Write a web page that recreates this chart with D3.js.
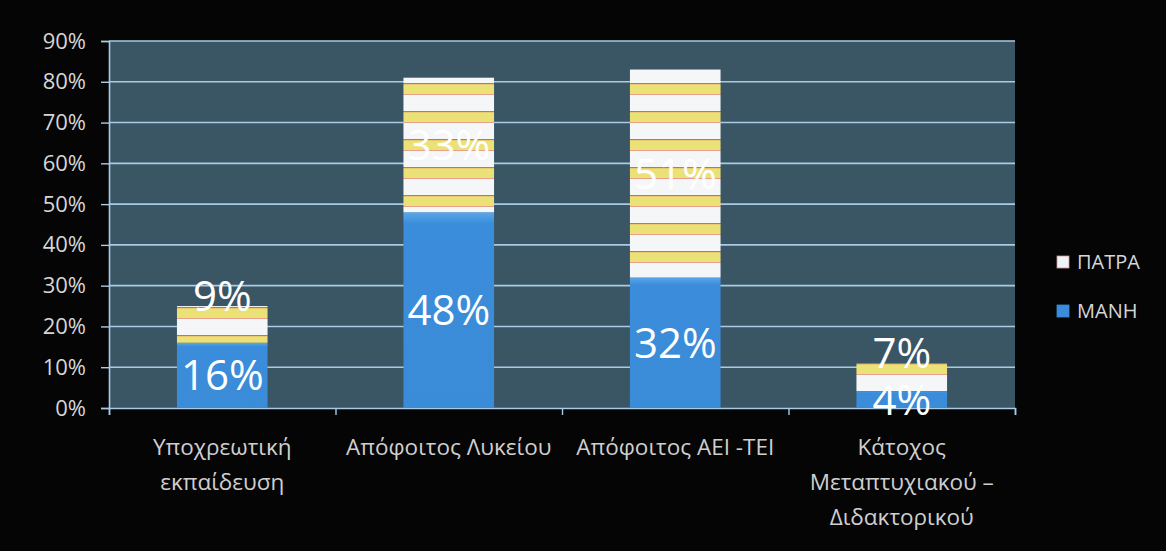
<!doctype html>
<html>
<head>
<meta charset="utf-8">
<script src="https://cdn.jsdelivr.net/npm/d3@7"></script>
<style>
  body { margin: 0; background: #050505; }
  text { font-family: "Open Sans", sans-serif; }
</style>
</head>
<body>
<div id="chart"></div>
<script>
// data
var categories = ["Υποχρεωτική εκπαίδευση", "Απόφοιτος Λυκείου", "Απόφοιτος ΑΕΙ -ΤΕΙ", "Κάτοχος Μεταπτυχιακού – Διδακτορικού"];
var catLines = [["Υποχρεωτική", "εκπαίδευση"], ["Απόφοιτος Λυκείου"], ["Απόφοιτος ΑΕΙ -ΤΕΙ"], ["Κάτοχος", "Μεταπτυχιακού –", "Διδακτορικού"]];
var mani = [16, 48, 32, 4];
var patra = [9, 33, 51, 7];
var seriesNames = ["ΜΑΝΗ", "ΠΑΤΡΑ"];
var yTicks = [0, 10, 20, 30, 40, 50, 60, 70, 80, 90];

var W = 1166, H = 551;
var margin = {top: 41, right: 151, bottom: 143, left: 109},
    width = W - margin.left - margin.right,
    height = H - margin.top - margin.bottom;

var svg = d3.select("#chart").append("svg")
    .attr("width", W)
    .attr("height", H);

svg.append("rect").attr("width", W).attr("height", H).attr("fill", "#050505");

var defs = svg.append("defs");

// striped fill for the ΠΑΤΡΑ segments
var pat = defs.append("pattern")
    .attr("id", "stripes")
    .attr("patternUnits", "userSpaceOnUse")
    .attr("width", 10).attr("height", 28);
pat.append("rect").attr("width", 10).attr("height", 28).attr("fill", "#f4f6f8");
pat.append("rect").attr("y", 15).attr("width", 10).attr("height", 10).attr("fill", "#ebe277");
pat.append("rect").attr("y", 14).attr("width", 10).attr("height", 1.2).attr("fill", "#dd6a4a");
pat.append("rect").attr("y", 25).attr("width", 10).attr("height", 1).attr("fill", "#e9a08a");

var blueGrad = defs.append("linearGradient")
    .attr("id", "blue").attr("x1", 0).attr("x2", 0).attr("y1", 0).attr("y2", 1);
blueGrad.append("stop").attr("offset", "0%").attr("stop-color", "#5aa6ea");
blueGrad.append("stop").attr("offset", "6%").attr("stop-color", "#3a8ddb");
blueGrad.append("stop").attr("offset", "100%").attr("stop-color", "#3a8cd8");

var g = svg.append("g")
    .attr("transform", "translate(" + margin.left + "," + margin.top + ")");

var x = d3.scaleBand().domain(categories).range([0, width]).paddingInner(0.6).paddingOuter(0.3);
var xb = d3.scaleBand().domain(categories).range([0, width]);
var y = d3.scaleLinear().domain([0, 90]).range([height, 0]);

// plot area
g.append("rect").attr("width", width).attr("height", height).attr("fill", "#3a5665");

// gridlines
g.selectAll(".grid").data(yTicks.slice(1)).enter().append("line")
    .attr("x1", 0).attr("x2", width)
    .attr("y1", function(d) { return y(d); })
    .attr("y2", function(d) { return y(d); })
    .attr("stroke", "#a9cbe6").attr("stroke-width", 1.6);

// y axis
var yAxis = g.append("g")
    .call(d3.axisLeft(y).tickValues(yTicks).tickSize(8).tickPadding(15)
      .tickFormat(function(d) { return d + "%"; }));
yAxis.select(".domain").attr("stroke", "#a9cbe6").attr("stroke-width", 1.6);
yAxis.selectAll(".tick line").attr("stroke", "#a9cbe6").attr("stroke-width", 1.4);
yAxis.selectAll(".tick text").attr("fill", "#d6d6d6").style("font-size", "22px");

// x axis
var xAxis = g.append("g")
    .attr("transform", "translate(0," + height + ")")
    .call(d3.axisBottom(d3.scaleLinear().domain([0, 4]).range([0, width]))
      .ticks(4).tickSize(7).tickFormat(""));
xAxis.select(".domain").attr("stroke", "#a9cbe6").attr("stroke-width", 1.6);
xAxis.selectAll(".tick line").attr("stroke", "#a9cbe6").attr("stroke-width", 1.4);

// stacked bars
var rows = categories.map(function(c, i) { return {cat: c, "ΜΑΝΗ": mani[i], "ΠΑΤΡΑ": patra[i]}; });
var stack = d3.stack().keys(seriesNames)(rows);
var fills = {"ΜΑΝΗ": "url(#blue)", "ΠΑΤΡΑ": "url(#stripes)"};

stack.forEach(function(s) {
  g.selectAll(".bar-" + s.index).data(s).enter().append("rect")
      .attr("x", function(d) { return x(d.data.cat); })
      .attr("width", x.bandwidth())
      .attr("y", function(d) { return y(d[1]); })
      .attr("height", function(d) { return y(d[0]) - y(d[1]); })
      .attr("fill", fills[s.key]);
});

// value labels: centred, but short top segments push their label up over the bar top
stack.forEach(function(s) {
  g.selectAll(".lab-" + s.index).data(s).enter().append("text")
      .attr("x", function(d) { return x(d.data.cat) + x.bandwidth() / 2; })
      .attr("y", function(d) {
        var h = y(d[0]) - y(d[1]);
        if (s.key === "ΠΑΤΡΑ" && h < 40) return y(d[1]) - 10;
        return (y(d[0]) + y(d[1])) / 2;
      })
      .attr("dy", "0.36em")
      .attr("text-anchor", "middle")
      .attr("fill", "#ffffff")
      .style("font-size", "42px")
      .text(function(d) { return (d[1] - d[0]) + "%"; });
});

// category labels
catLines.forEach(function(lines, i) {
  var t = g.append("text")
      .attr("text-anchor", "middle")
      .attr("fill", "#cfcfcf")
      .style("font-size", "22.5px");
  lines.forEach(function(l, j) {
    t.append("tspan")
        .attr("x", xb(categories[i]) + xb.bandwidth() / 2)
        .attr("y", height + 47 + j * 35)
        .text(l);
  });
});

// legend
var legend = svg.append("g").attr("transform", "translate(1057,0)");
["ΠΑΤΡΑ", "ΜΑΝΗ"].forEach(function(name, i) {
  var yy = 262 + i * 49;
  legend.append("rect")
      .attr("x", 0).attr("y", yy - 6).attr("width", 12).attr("height", 12)
      .attr("fill", name === "ΜΑΝΗ" ? "#3a8ddb" : "#eef3f8")
      .attr("stroke", name === "ΜΑΝΗ" ? "#3a8ddb" : "#c99a90").attr("stroke-width", 0.8);
  legend.append("text")
      .attr("x", 20).attr("y", yy).attr("dy", "0.36em")
      .attr("fill", "#d6d6d6")
      .style("font-size", "20px")
      .text(name);
});
</script>
</body>
</html>
